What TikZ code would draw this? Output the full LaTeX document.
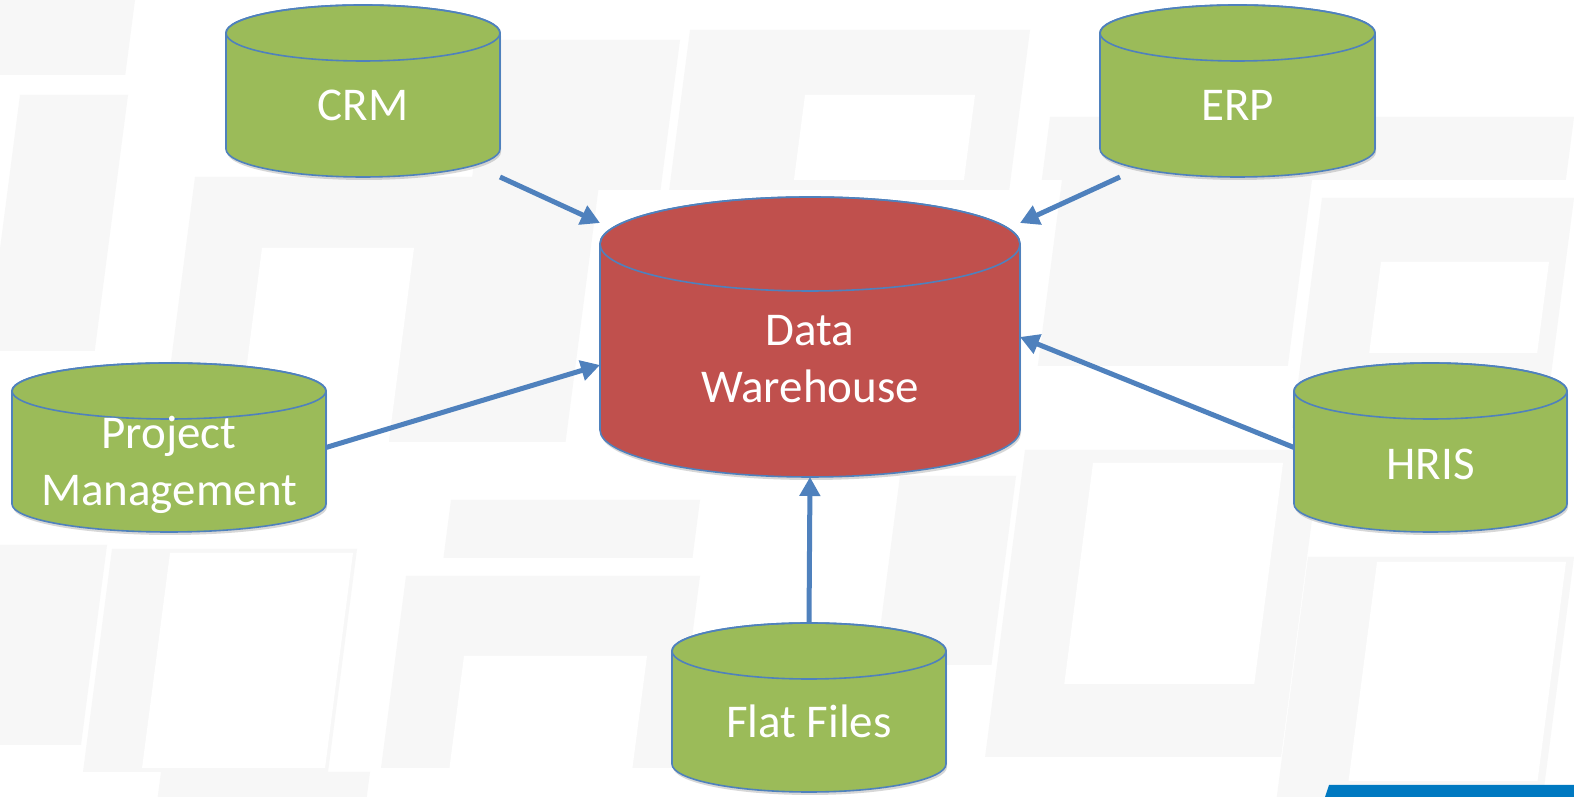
\documentclass[tikz,border=0pt]{standalone}
\usepackage{fontspec}
\setmainfont{Carlito}
\usetikzlibrary{arrows.meta,shadows,calc}
\definecolor{cgreen}{HTML}{9BBB59}
\definecolor{cred}{HTML}{C0504D}
\definecolor{cline}{HTML}{4F81BD}
\definecolor{carrow}{HTML}{4F81BD}
\definecolor{bgc}{RGB}{247,247,247}
\definecolor{cbar}{HTML}{0079C1}
\tikzset{
 box/.style={draw=none, inner sep=0pt, outer sep=0pt},
 lbl/.style={text=white, font=\fontsize{47}{57}\selectfont, align=center, inner sep=0pt},
 cylshape/.style={draw=cline, line width=1.6pt},
 flow/.style={draw=carrow, line width=5pt, -{Triangle[length=19pt,width=20pt]}},
 cylshadow/.style={drop shadow={shadow xshift=1pt, shadow yshift=-3pt, opacity=0.22, fill=black!70}},
 bgblock/.style={fill=bgc},
 bghole/.style={fill=white},
}
\newcommand\drawcyl[4]{%
 \filldraw[cylshape, fill=#4, cylshadow] ([yshift=-#3pt]#1.north west) -- ([yshift=#3pt]#1.south west) arc[start angle=180,end angle=360,x radius=#2pt,y radius=#3pt] -- ([yshift=-#3pt]#1.north east) arc[start angle=0,end angle=180,x radius=#2pt,y radius=#3pt] -- cycle;
 \draw[cylshape] ([yshift=-#3pt]#1.north) ellipse[x radius=#2pt,y radius=#3pt];
}
\newcommand\bgb[5]{\fill[#5] ({#1},{797-#2}) -- ({#1+#3},{797-#2}) -- ({#1+#3-0.13*#4},{797-#2-#4}) -- ({#1-0.13*#4},{797-#2-#4}) -- cycle;}
\begin{document}
\begin{tikzpicture}[x=1pt,y=1pt]
\useasboundingbox (0,0) rectangle (1574,797);
\fill[white] (0,0) rectangle (1574,797);
% background pattern
\bgb{0}{0}{135}{75}{bgblock}
\bgb{20}{95}{108}{256}{bgblock}
\bgb{195}{177}{405}{265}{bgblock}
\bgb{262}{248}{152}{195}{bghole}
\bgb{490}{40}{190}{150}{bgblock}
\bgb{690}{30}{340}{160}{bgblock}
\bgb{805}{95}{170}{85}{bghole}
\bgb{1050}{117}{524}{63}{bgblock}
\bgb{1062}{180}{250}{186}{bgblock}
\bgb{1322}{198}{252}{230}{bgblock}
\bgb{1381}{262}{168}{91}{bghole}
\bgb{1025}{450}{296}{307}{bgblock}
\bgb{1093}{463}{190}{221}{bghole}
\bgb{1308}{557}{266}{240}{bgblock}
\bgb{1377}{562}{189}{219}{bghole}
\bgb{900}{476}{116}{189}{bgblock}
\bgb{0}{545}{107}{200}{bgblock}
\bgb{112}{549}{245}{223}{bgblock}
\bgb{170}{553}{183}{215}{bghole}
\bgb{161}{772}{209}{25}{bgblock}
\bgb{406}{576}{294}{192}{bgblock}
\bgb{464}{656}{183}{141}{bghole}
\bgb{451}{500}{249}{58}{bgblock}
% bar
\fill[cbar] (1329,12) -- (1574,12) -- (1574,0) -- (1325,0) -- cycle;
% nodes
\node[box, minimum width=274pt, minimum height=172pt] (crm) at (363,706) {};
\node[box, minimum width=275pt, minimum height=172pt] (erp) at (1237.5,706) {};
\node[box, minimum width=420pt, minimum height=280pt] (dw) at (810,460) {};
\node[box, minimum width=314pt, minimum height=169pt] (pm) at (169,349.5) {};
\node[box, minimum width=273pt, minimum height=169pt] (hris) at (1430.5,349.5) {};
\node[box, minimum width=274pt, minimum height=169pt] (ff) at (809,89.5) {};
\drawcyl{crm}{137}{28}{cgreen}
\drawcyl{erp}{137.5}{28}{cgreen}
\drawcyl{dw}{210}{47}{cred}
\drawcyl{pm}{157}{28}{cgreen}
\drawcyl{hris}{136.5}{28}{cgreen}
\drawcyl{ff}{137}{28}{cgreen}
\node[lbl] (crmt) at ([yshift=-14pt]crm.center) {CRM};
\node[lbl] (erpt) at ([yshift=-14pt]erp.center) {ERP};
\node[lbl] (dwt) at ([yshift=-22pt]dw.center) {Data\\Warehouse};
\node[lbl] (pmt) at ([yshift=-17pt]pm.center) {Project\\Management};
\node[lbl] (hrist) at ([yshift=-17pt]hris.center) {HRIS};
\node[lbl] (fft) at ([yshift=-14pt]ff.center) {Flat Files};
% connectors
\draw[flow] (crm.south east) -- ([yshift=-26pt]dw.north west);
\draw[flow] ([xshift=20pt]erp.south west) -- ([yshift=-26pt]dw.north east);
\draw[flow] (pm.east) -- ([yshift=-28pt]dw.west);
\draw[flow] (hris.west) -- (dw.east);
\draw[flow] (ff.north) -- (dw.south);
\end{tikzpicture}
\end{document}
